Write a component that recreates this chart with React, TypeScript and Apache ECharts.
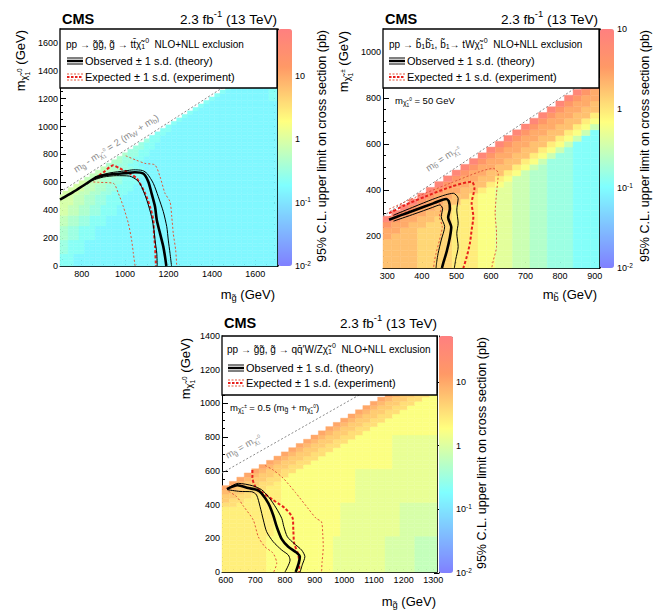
import React, { useEffect, useRef } from 'react';
import * as echarts from 'echarts';

const FONT = "'Liberation Sans', Arial, Helvetica, sans-serif";

// ---------- colour palette (CMS SUSY style), fraction stops ----------
const PAL_STOPS = [0.0, 0.34, 0.61, 0.84, 1.0];
const PAL_R = [0.5, 0.5, 1.0, 1.0, 1.0];
const PAL_G = [0.5, 1.0, 1.0, 0.6, 0.5];
const PAL_B = [1.0, 1.0, 0.5, 0.4, 0.5];

// ---------- cell level code: letter n -> log10(limit / pb) = -2 + 0.15 n ----------
const LEVELS = 'abcdefghijklmnopqrstuvwxyz';
const LEVEL_LOG0 = -2;
const LEVEL_STEP = 0.15;
const COLORBAR_MINOR_MULT = [2, 3, 4, 5, 6, 7, 8, 9];

// ================= Panel 1 : gluino -> t tbar chi =================
const P1_X_RANGE = [700, 1700];
const P1_Y_RANGE = [0, 1700];
const P1_X_TICKS = [800, 1000, 1200, 1400, 1600];
const P1_Y_TICKS = [0, 200, 400, 600, 800, 1000, 1200, 1400, 1600];
const P1_Z_RANGE = [-2, 1.74];
const P1_Z_TICKS = [-2, -1, 0, 1];
const P1_BINS = { x0: 700, y0: 0, step: 25, nx: 41, minGap: 200 };
// rows from y = 0 upward, run-length coded from the first cell below the diagonal
const P1_ROWS = [
  'j3i38', 'j3i38', 'j3i38', 'j3i38',
  'k2j3i36', 'k2j3i36', 'k2j3i36', 'k2j3i36',
  'l2k2j3i34', 'l2k2j3i34', 'l2k2j3i34', 'l2k2j3i34',
  'm2l2k2j3i32', 'm2l2k2j3i32', 'm2l2k2j3i32',
  'n2m2l2k2j3i30', 'n2m2l2k2j3i30', 'n2m2l2k2j3i30',
  'n3m2l2k2j3i29', 'n3m2l2k2j3i29', 'n3m2l2k2j3i29',
  'n3m2l2k2j3i28', 'n3m2l2k2j3i27', 'n2m2l2k2j3i27', 'n2m2l2k2j3i26',
  'm3l2k2j3i26', 'm3l2k2j3i25', 'm2l2k2j3i25', 'm2l2k2j2i25',
  'l2k2j2i26', 'l2k2j2i25', 'l1k2j2i25', 'l1k2j2i24',
  'k2j2i24', 'k2j2i23', 'k1j2i23', 'k1j2i22',
  'j2i22', 'j2i21', 'j2i20',
  'j1i20', 'j1i19', 'j1i18', 'j1i17', 'j1i16', 'j1i15', 'j1i14', 'j1i13',
  'j1i10j2', 'j1i9j2', 'j1i8j2', 'j1i7j2',
];
const P1_DIAG = [[700, 530], [1700, 1530]];
const P1_OBS = [[700, 476], [760, 530], [820, 590], [861, 630], [900, 650], [950, 660], [1000, 666], [1045, 672], [1085, 662], [1107, 605], [1122, 521], [1138, 425], [1146, 330], [1161, 234], [1176, 139], [1184, 67], [1190, 0]];
const P1_OBS_UP = [[860, 640], [930, 668], [1000, 682], [1040, 690], [1080, 685], [1102, 662], [1130, 593], [1153, 497], [1176, 390], [1192, 282], [1199, 186], [1207, 91], [1214, 0]];
const P1_OBS_DN = [[845, 612], [900, 638], [960, 648], [1020, 645], [1058, 612], [1076, 569], [1100, 473], [1122, 354], [1133, 258], [1138, 186], [1146, 91], [1148, 0]];
const P1_EXP = [[861, 629], [900, 672], [946, 722], [975, 700], [1007, 676], [1053, 629], [1092, 521], [1115, 425], [1130, 330], [1133, 234], [1138, 139], [1142, 0]];
const P1_EXP_UP = [[1003, 790], [1050, 760], [1092, 736], [1138, 724], [1161, 640], [1184, 521], [1207, 461], [1215, 354], [1222, 234], [1233, 115], [1238, 0]];
const P1_EXP_DN = [[835, 605], [880, 600], [946, 593], [969, 521], [992, 425], [1015, 306], [1030, 186], [1038, 91], [1046, 0]];

// ================= Panel 2 : sbottom -> t W chi =================
const P2_X_RANGE = [287.5, 912.5];
const P2_Y_RANGE = [62.5, 1100];
const P2_X_TICKS = [300, 400, 500, 600, 700, 800, 900];
const P2_Y_TICKS = [200, 400, 600, 800, 1000];
const P2_Z_RANGE = [-2, 1];
const P2_Z_TICKS = [-2, -1, 0, 1];
const P2_BINS = { x0: 300, y0: 75, step: 25, nx: 25, minGap: 25 };
const P2_ROWS = [
  'p4o4n3m2l2k2j2i3h3', 'p4o4n3m2l2k2j2i3h3', 'p4o4n3m2l2k2j2i3h3', 'p4o4n3m2l2k2j2i3h3', 'p4o4n3m2l2k2j2i3h3',
  'q1p3o4n3m2l2k2j2i3h3',
  'q2p2o4n3m2l2k2j2i3h3',
  'r1q2p2o3n3m2l2k2j2i3h3',
  't1r1q2p2o2n3m2l2k2j2i3h3',
  't1r1q2p2o1n3m2l2k2j2i3h3',
  't1r1q2p2n3m2l2k2j2i3h3',
  't1r1q2p2n2m2l2k2j2i3h3',
  't1r1q2p2n1m2l2k2j2i3h3',
  't1r1q2p2n1m1l2k2j2i3h3',
  't1r1q2p2n1m1l1k2j2i3h3',
  't1r1q2p2n1m1k2j2i3h3',
  't1r1q2p2n1m1k1j2i3h3',
  't1r1q2p2n1m1k1j1i3h3',
  't1r1q2p2n1m1k1i3h3',
  't1r1q2p2n1m1k1i2h3',
  't1r1q2p2n1m1k1i1h3',
  't1r1q2p2n1m1k1h3',
  't1r1q2p2n1m1k1h2',
  't1r1q2p2n1m1k1h1',
  't1r1q2p2n1m1k1',
  't1r1q2p2n1m1',
  't1r1q2p2n1',
  't1r1q2p2',
  't1r1q2p1',
  't1r1q2',
  't1r1q1',
  't1r1',
  't1',
];
const P2_DIAG = [[287.5, 287.5], [912.5, 912.5]];
const P2_OBS = [[305, 272], [340, 292], [375, 311], [433, 343], [470, 362], [478, 352], [481, 320], [476, 282], [485, 240], [481, 195], [472, 135], [462, 85], [458, 62.5]];
const P2_OBS_UP = [[318, 292], [380, 330], [430, 360], [468, 380], [491, 387], [505, 365], [501, 314], [505, 257], [501, 213], [505, 155], [498, 100], [494, 62.5]];
const P2_OBS_DN = [[318, 266], [380, 298], [430, 325], [452, 336], [460, 322], [456, 285], [466, 242], [456, 184], [447, 126], [443, 90], [441, 62.5]];
const P2_EXP = [[305, 300], [350, 335], [409, 372], [486, 416], [544, 437], [552, 409], [544, 343], [549, 285], [544, 228], [539, 170], [530, 112], [520, 62.5]];
const P2_EXP_UP = [[305, 318], [385, 372], [481, 430], [568, 481], [607, 495], [621, 474], [616, 387], [612, 300], [616, 213], [616, 155], [607, 97], [602, 62.5]];
const P2_EXP_DN = [[305, 285], [380, 318], [440, 344], [457, 334], [451, 285], [459, 242], [451, 184], [441, 126], [436, 90], [434, 62.5]];

// ================= Panel 3 : gluino -> q qbar W/Z chi =================
const P3_X_RANGE = [587.5, 1312.5];
const P3_Y_RANGE = [0, 1400];
const P3_X_TICKS = [600, 700, 800, 900, 1000, 1100, 1200, 1300];
const P3_Y_TICKS = [0, 200, 400, 600, 800, 1000, 1200, 1400];
const P3_Z_RANGE = [-2, 1.72];
const P3_Z_TICKS = [-2, -1, 0, 1];
const P3_BINS = { x0: 600, y0: 0, step: 25, nx: 29, minGap: 100 };
const P3_ROWS = [
  'q6p9o7n4m3', 'q6p9o7n4m3', 'q6p9o7n4m3', 'q6p9o7n4m3', 'q6p9o7n4m3', 'q6p9o7n4m3', 'q6p9o7n4m3', 'q6p9o7n4m3', 'q6p9o7n4m3',
  'q7p9o8n5', 'q7p9o8n5', 'q7p9o8n5', 'q7p9o8n5', 'q7p9o8n5', 'q7p9o8n5', 'q7p9o8n5',
  'r2q5p9o8n5',
  's1r2q5p10o11',
  's2r2q4p10o11',
  't1s2r2q3p10o11',
  'u1t1s2r2q2p10o11',
  'u1t1s2r2q1p10o11',
  'u1t1s2r2p10o11',
  'u1t1s2r2p9o11',
  'u1t1s2r2p8o11',
  'u1t1s2r2p12o6', 'u1t1s2r2p11o6', 'u1t1s2r2p10o6', 'u1t1s2r2p9o6',
  'u1t1s2r2p8o6', 'u1t1s2r2p7o6', 'u1t1s2r2p6o6', 'u1t1s2r2p5o6',
  'u1t1s2r2p10', 'u1t1s2r2p9', 'u1t1s2r2p8', 'u1t1s2r2p7', 'u1t1s2r2p6',
  'u1t1s2r2p5', 'u1t1s2r2p4', 'u1t1s2r2p3', 'u1t1s2r2p2', 'u1t1s2r2p1',
];
const P3_DIAG = [[587.5, 587.5], [1312.5, 1312.5]];
const P3_OBS = [[604, 492], [640, 515], [676, 498], [704, 488], [721, 467], [744, 407], [760, 338], [772, 269], [789, 195], [811, 150], [839, 115], [850, 91], [846, 52], [836, 0]];
const P3_OBS_UP = [[606, 496], [642, 526], [690, 512], [721, 488], [744, 447], [770, 380], [789, 318], [796, 269], [808, 209], [830, 170], [856, 130], [867, 91], [858, 42], [851, 0]];
const P3_OBS_DN = [[606, 488], [648, 478], [688, 476], [704, 457], [716, 387], [727, 308], [738, 239], [760, 180], [789, 130], [811, 101], [817, 71], [800, 0]];
const P3_EXP = [[690, 605], [690, 560], [700, 506], [721, 476], [760, 427], [800, 378], [826, 318], [828, 249], [831, 170], [845, 100], [848, 40], [848, 0]];
const P3_EXP_UP = [[733, 632], [760, 605], [794, 556], [835, 472], [880, 372], [905, 318], [923, 298], [927, 230], [929, 150], [925, 60], [923, 0]];
const P3_EXP_DN = [[610, 478], [637, 447], [660, 390], [693, 308], [710, 209], [732, 150], [760, 111], [772, 52], [762, 0]];

// ---------- texts ----------
const CHI = '\u03c7\u0303';
const GL = 'g\u0303';
const SB = 'b\u0303';
const SBBAR = 'b\u0303\u0304';
const TEXTS = [
  {
    leg1: `pp \u2192 ${GL}${GL}, ${GL} \u2192 tt\u0304${CHI}{sb|1}{sp|0}  NLO+NLL exclusion`,
    yTitle: `m{s1|${CHI}}{s2|1}{s3|0} (GeV)`,
    xTitle: `m{s1|${GL}} (GeV)`,
    diag: `m{s1|${GL}} - m{s1|${CHI}}{s2|1}{s3|0} = 2 (m{s1|W} + m{s1|b})`,
    note: '',
  },
  {
    leg1: `pp \u2192 ${SB}{sb|1}${SBBAR}{sb|1}, ${SB}{sb|1}\u2192 tW${CHI}{sb|1}{sp|0}  NLO+NLL exclusion`,
    yTitle: `m{s1|${CHI}}{s2|1}{s3|\u00b1} (GeV)`,
    xTitle: `m{s1|${SB}} (GeV)`,
    diag: `m{s1|${SB}} = m{s1|${CHI}}{s2|1}{s3|\u00b1}`,
    note: `m{s1|${CHI}}{s2|1}{s3|0} = 50 GeV`,
  },
  {
    leg1: `pp \u2192 ${GL}${GL}, ${GL} \u2192 qq\u0304\u2032W/Z${CHI}{sb|1}{sp|0}  NLO+NLL exclusion`,
    yTitle: `m{s1|${CHI}}{s2|1}{s3|0} (GeV)`,
    xTitle: `m{s1|${GL}} (GeV)`,
    diag: `m{s1|${GL}} = m{s1|${CHI}}{s2|1}{s3|0}`,
    note: `m{s1|${CHI}}{s2|1}{s3|\u00b1} = 0.5 (m{s1|${GL}} + m{s1|${CHI}}{s2|1}{s3|0})`,
  },
];
const LUMI = '2.3 fb{sp|-1} (13 TeV)';
const OBS_LABEL = 'Observed \u00b1 1 s.d. (theory)';
const EXP_LABEL = 'Expected \u00b1 1 s.d. (experiment)';
const Z_TITLE = '95% C.L. upper limit on cross section (pb)';

// ---------- layout (pixels) ----------
const LAYOUT = [
  { grid: { left: 60, top: 29, width: 217, height: 237 }, bar: { left: 278, top: 29, width: 14, height: 237 },
    cms: [62, 19], lumi: [277, 19], leg1: [66, 44], iconX: 67, obsY: 61, expY: 77, legTextX: 85,
    yTitle: [20, 30], xTitle: [275, 294], zTitle: [322, 30], diag: [116, 143], note: [0, 0] },
  { grid: { left: 383, top: 29, width: 216, height: 239 }, bar: { left: 600, top: 29, width: 14, height: 239 },
    cms: [385, 19], lumi: [598, 19], leg1: [389, 44], iconX: 389, obsY: 61, expY: 77, legTextX: 407,
    yTitle: [343, 31], xTitle: [597, 294], zTitle: [645, 30], diag: [443, 158], note: [395, 100] },
  { grid: { left: 222, top: 336, width: 215, height: 236 }, bar: { left: 439, top: 336, width: 14, height: 237 },
    cms: [224, 323], lumi: [437, 323], leg1: [227, 349], iconX: 228, obsY: 368, expY: 383, legTextX: 246,
    yTitle: [185, 338], xTitle: [436, 601], zTitle: [482, 337], diag: [243, 446], note: [230, 407] },
];

const PANELS = [
  { rows: P1_ROWS, bins: P1_BINS, xr: P1_X_RANGE, yr: P1_Y_RANGE, xt: P1_X_TICKS, yt: P1_Y_TICKS, xMinor: 50, yMinor: 50,
    z: P1_Z_RANGE, zt: P1_Z_TICKS, diag: P1_DIAG,
    lines: { expDn: P1_EXP_DN, expUp: P1_EXP_UP, exp: P1_EXP, obsDn: P1_OBS_DN, obsUp: P1_OBS_UP, obs: P1_OBS } },
  { rows: P2_ROWS, bins: P2_BINS, xr: P2_X_RANGE, yr: P2_Y_RANGE, xt: P2_X_TICKS, yt: P2_Y_TICKS, xMinor: 25, yMinor: 50,
    z: P2_Z_RANGE, zt: P2_Z_TICKS, diag: P2_DIAG,
    lines: { expDn: P2_EXP_DN, expUp: P2_EXP_UP, exp: P2_EXP, obsDn: P2_OBS_DN, obsUp: P2_OBS_UP, obs: P2_OBS } },
  { rows: P3_ROWS, bins: P3_BINS, xr: P3_X_RANGE, yr: P3_Y_RANGE, xt: P3_X_TICKS, yt: P3_Y_TICKS, xMinor: 25, yMinor: 50,
    z: P3_Z_RANGE, zt: P3_Z_TICKS, diag: P3_DIAG,
    lines: { expDn: P3_EXP_DN, expUp: P3_EXP_UP, exp: P3_EXP, obsDn: P3_OBS_DN, obsUp: P3_OBS_UP, obs: P3_OBS } },
];

const LINE_STYLES: Record<string, any> = {
  obs: { color: '#000000', width: 2.6, type: 'solid' },
  obsUp: { color: '#000000', width: 1, type: 'solid' },
  obsDn: { color: '#000000', width: 1, type: 'solid' },
  exp: { color: '#e8201c', width: 2, type: [3, 2] },
  expUp: { color: '#e0553a', width: 1, type: [2, 2] },
  expDn: { color: '#e0553a', width: 1, type: [2, 2] },
};

// ---------- helpers ----------
function paletteColors(n: number) {
  const out: string[] = [];
  for (let i = 0; i < n; i++) {
    const f = i / (n - 1);
    let s = 0;
    while (s < PAL_STOPS.length - 2 && f > PAL_STOPS[s + 1]) s++;
    const t = (f - PAL_STOPS[s]) / (PAL_STOPS[s + 1] - PAL_STOPS[s]);
    const ch = (a: number[]) => Math.round(255 * (a[s] + (a[s + 1] - a[s]) * t));
    out.push(`rgb(${ch(PAL_R)},${ch(PAL_G)},${ch(PAL_B)})`);
  }
  return out;
}

function decodeRows(rows: string[], b: { x0: number; y0: number; step: number; nx: number; minGap: number }) {
  const cells: number[][] = [];
  rows.forEach((row, k) => {
    const y = b.y0 + k * b.step;
    let j = Math.max(0, Math.ceil((y + b.minGap - b.x0) / b.step - 1e-9));
    const re = /([a-z])(\d*)/g;
    let m: RegExpExecArray | null;
    while ((m = re.exec(row)) !== null) {
      const n = LEVELS.indexOf(m[1]);
      const count = m[2] ? parseInt(m[2], 10) : 1;
      for (let c = 0; c < count && j < b.nx; c++, j++) {
        cells.push([b.x0 + j * b.step, y, LEVEL_LOG0 + LEVEL_STEP * n]);
      }
    }
  });
  return cells;
}

function minorTicks(range: number[], step: number, majors: number[]) {
  const out: number[] = [];
  const start = Math.ceil(range[0] / step - 1e-9);
  for (let i = start; i * step <= range[1] + 1e-9; i++) {
    const v = +(i * step).toFixed(4);
    if (!majors.some((m) => Math.abs(m - v) < 1e-6)) out.push(v);
  }
  return out;
}

const nb = (s: string) => s.replace(/ /g, '\u00a0');

function richFor(F: number, color: string) {
  const mk = (size: number, pad: number[]) => ({ fontSize: size, fontFamily: FONT, fill: color, color, padding: pad });
  return {
    s1: mk(F * 0.72, [F * 0.55, 0, 0, 0]),
    s2: mk(F * 0.5, [F * 1.1, 0, 0, 0]),
    s3: mk(F * 0.5, [0, 0, F * 0.15, 0]),
    sb: mk(F * 0.7, [F * 0.55, 0, 0, 0]),
    sp: mk(F * 0.7, [0, 0, F * 0.75, 0]),
  };
}

function txt(x: number, y: number, s: string, size: number, align: string, opts: any = {}) {
  const color = opts.color || '#000';
  return {
    type: 'text', x, y, rotation: opts.rot || 0, z: 101, silent: true,
    style: {
      text: nb(s), fontSize: size, fontFamily: FONT, fontWeight: opts.bold ? 'bold' : 'normal',
      fill: color, align, verticalAlign: 'middle', rich: richFor(size, color),
    },
  };
}

function hline(x1: number, x2: number, y: number, color: string, w: number, dash?: number[]) {
  return { type: 'line', z: 102, silent: true, shape: { x1, y1: y, x2, y2: y }, style: { stroke: color, lineWidth: w, lineDash: dash || null } };
}

function buildOption() {
  const grids: any[] = [];
  const xAxes: any[] = [];
  const yAxes: any[] = [];
  const series: any[] = [];
  const visualMaps: any[] = [];
  const graphics: any[] = [];
  const colors = paletteColors(101);

  const tickStyle = { color: '#000', width: 1 };
  const labelBase = { color: '#000', fontFamily: FONT, fontSize: 9, formatter: (v: number) => `${v}` };

  PANELS.forEach((P, p) => {
    const L = LAYOUT[p];
    const T = TEXTS[p];
    const gi = grids.length;
    grids.push({ ...L.grid, containLabel: false });

    const base = (range: number[]) => ({ type: 'value', gridIndex: gi, min: range[0], max: range[1], splitLine: { show: false }, silent: true });
    const xMin = minorTicks(P.xr, P.xMinor, P.xt);
    const yMin = minorTicks(P.yr, P.yMinor, P.yt);

    const xi = xAxes.length;
    xAxes.push({
      ...base(P.xr), position: 'bottom',
      axisLine: { show: true, onZero: false, lineStyle: tickStyle },
      axisTick: { show: true, inside: true, length: 6, customValues: P.xt, lineStyle: tickStyle },
      axisLabel: { show: true, customValues: P.xt, margin: 3, ...labelBase },
    });
    xAxes.push({
      ...base(P.xr), position: 'bottom',
      axisLine: { show: false, onZero: false },
      axisTick: { show: true, inside: true, length: 3, customValues: xMin, lineStyle: tickStyle },
      axisLabel: { show: false },
    });
    const yi = yAxes.length;
    yAxes.push({
      ...base(P.yr), position: 'left',
      axisLine: { show: true, onZero: false, lineStyle: tickStyle },
      axisTick: { show: true, inside: true, length: 6, customValues: P.yt, lineStyle: tickStyle },
      axisLabel: { show: true, customValues: P.yt, margin: 2, ...labelBase },
    });
    yAxes.push({
      ...base(P.yr), position: 'left',
      axisLine: { show: false, onZero: false },
      axisTick: { show: true, inside: true, length: 3, customValues: yMin, lineStyle: tickStyle },
      axisLabel: { show: false },
    });
    yAxes.push({
      ...base(P.yr), position: 'right',
      axisLine: { show: true, onZero: false, lineStyle: tickStyle },
      axisTick: { show: true, inside: true, length: 6, customValues: P.yt, lineStyle: tickStyle },
      axisLabel: { show: false },
    });
    yAxes.push({
      ...base(P.yr), position: 'right',
      axisLine: { show: false, onZero: false },
      axisTick: { show: true, inside: true, length: 3, customValues: yMin, lineStyle: tickStyle },
      axisLabel: { show: false },
    });

    // heat map cells
    const half = P.bins.step / 2;
    const heatIdx = series.length;
    series.push({
      type: 'custom', xAxisIndex: xi, yAxisIndex: yi, silent: true, z: 1,
      data: decodeRows(P.rows, P.bins),
      encode: { x: 0, y: 1 },
      renderItem: (params: any, api: any) => {
        const x = api.value(0);
        const y = api.value(1);
        const a = api.coord([x - half, y + half]);
        const b = api.coord([x + half, y - half]);
        const cs = params.coordSys;
        const x0 = Math.max(a[0], cs.x);
        const x1 = Math.min(b[0], cs.x + cs.width);
        const y0 = Math.max(a[1], cs.y);
        const y1 = Math.min(b[1], cs.y + cs.height);
        if (x1 <= x0 || y1 <= y0) return null;
        const c = api.visual('color');
        return { type: 'rect', shape: { x: x0, y: y0, width: x1 - x0, height: y1 - y0 }, style: { fill: c, stroke: c, lineWidth: 0.4 } };
      },
    });
    visualMaps.push({
      type: 'continuous', seriesIndex: heatIdx, dimension: 2, min: P.z[0], max: P.z[1],
      inRange: { color: colors }, show: true, calculable: false, hoverLink: false,
      orient: 'vertical', left: L.bar.left, top: L.bar.top, itemWidth: L.bar.width, itemHeight: L.bar.height,
      padding: 0, textStyle: { color: 'transparent' },
    });

    // kinematic diagonal
    series.push({
      type: 'line', xAxisIndex: xi, yAxisIndex: yi, data: P.diag, showSymbol: false, symbol: 'none', silent: true, z: 3,
      lineStyle: { color: '#8a8a8a', width: 1, type: [2, 2] },
    });
    // contours
    (['expDn', 'expUp', 'exp', 'obsDn', 'obsUp', 'obs'] as const).forEach((key) => {
      series.push({
        type: 'line', xAxisIndex: xi, yAxisIndex: yi, data: (P.lines as any)[key], showSymbol: false, symbol: 'none',
        smooth: 0.25, silent: true, z: 5, lineStyle: LINE_STYLES[key],
      });
    });

    // colour bar axis
    const cg = grids.length;
    grids.push({ ...L.bar, containLabel: false });
    xAxes.push({ type: 'value', gridIndex: cg, min: 0, max: 1, show: false });
    const zMinor: number[] = [];
    for (let n = Math.floor(P.z[0]); n <= Math.ceil(P.z[1]); n++) {
      COLORBAR_MINOR_MULT.forEach((m) => {
        const v = n + Math.log10(m);
        if (v > P.z[0] && v < P.z[1]) zMinor.push(v);
      });
    }
    yAxes.push({
      type: 'value', gridIndex: cg, min: P.z[0], max: P.z[1], position: 'right', splitLine: { show: false }, silent: true,
      axisLine: { show: true, lineStyle: tickStyle },
      axisTick: { show: true, inside: true, length: 5, customValues: P.zt, lineStyle: tickStyle },
      axisLabel: {
        show: true, customValues: P.zt, margin: 3, color: '#000', fontFamily: FONT, fontSize: 9,
        formatter: (v: number) => {
          const n = Math.round(v);
          if (n === 0) return '1';
          if (n === 1) return '10';
          return `{b|10}{s|${n}}`;
        },
        rich: {
          b: { fontSize: 9, fontFamily: FONT, color: '#000' },
          s: { fontSize: 6.5, fontFamily: FONT, color: '#000', padding: [0, 0, 6, 0] },
        },
      },
    });
    yAxes.push({
      type: 'value', gridIndex: cg, min: P.z[0], max: P.z[1], position: 'right', splitLine: { show: false }, silent: true,
      axisLine: { show: false },
      axisTick: { show: true, inside: true, length: 2.5, customValues: zMinor, lineStyle: tickStyle },
      axisLabel: { show: false },
    });

    // ----- graphics -----
    const box = [L.grid.left, L.grid.top, L.grid.width, 59];
    graphics.push({ type: 'rect', z: 100, silent: true, shape: { x: box[0], y: box[1], width: box[2], height: box[3] }, style: { fill: '#fff', stroke: '#000', lineWidth: 1.3 } });
    graphics.push(txt(L.leg1[0], L.leg1[1], T.leg1, 10, 'left'));
    const ix = L.iconX;
    graphics.push(hline(ix, ix + 16, L.obsY - 3, '#000', 1));
    graphics.push(hline(ix, ix + 16, L.obsY, '#000', 2.4));
    graphics.push(hline(ix, ix + 16, L.obsY + 3, '#000', 1));
    graphics.push(txt(L.legTextX, L.obsY, OBS_LABEL, 11, 'left'));
    graphics.push(hline(ix, ix + 16, L.expY - 3, '#e0553a', 1, [2, 1.5]));
    graphics.push(hline(ix, ix + 16, L.expY, '#e8201c', 2, [2.5, 1.5]));
    graphics.push(hline(ix, ix + 16, L.expY + 3, '#e0553a', 1, [2, 1.5]));
    graphics.push(txt(L.legTextX, L.expY, EXP_LABEL, 11, 'left'));

    graphics.push(txt(L.cms[0], L.cms[1], 'CMS', 14.5, 'left', { bold: true }));
    graphics.push(txt(L.lumi[0], L.lumi[1], LUMI, 13.5, 'right'));
    graphics.push(txt(L.yTitle[0], L.yTitle[1], T.yTitle, 13, 'right', { rot: Math.PI / 2 }));
    graphics.push(txt(L.xTitle[0], L.xTitle[1], T.xTitle, 13, 'right'));
    graphics.push(txt(L.zTitle[0], L.zTitle[1], Z_TITLE, 12.5, 'right', { rot: Math.PI / 2 }));

    const ang = Math.atan((L.grid.height / (P.yr[1] - P.yr[0])) / (L.grid.width / (P.xr[1] - P.xr[0])));
    graphics.push(txt(L.diag[0], L.diag[1], T.diag, 9.5, 'center', { rot: ang, color: '#8a8a8a' }));
    if (T.note) graphics.push(txt(L.note[0], L.note[1], T.note, 9.5, 'left'));
  });

  return {
    animation: false,
    backgroundColor: '#ffffff',
    textStyle: { fontFamily: FONT },
    grid: grids,
    xAxis: xAxes,
    yAxis: yAxes,
    visualMap: visualMaps,
    series,
    graphic: { elements: graphics },
  };
}

export default function App() {
  const ref = useRef<HTMLDivElement>(null);
  useEffect(() => {
    if (!ref.current) return;
    const chart = echarts.init(ref.current, null, { renderer: 'svg' });
    chart.setOption(buildOption() as any);
    return () => chart.dispose();
  }, []);
  return <div ref={ref} style={{ position: 'absolute', left: 0, top: 0, width: 655, height: 613, background: '#fff' }} />;
}
